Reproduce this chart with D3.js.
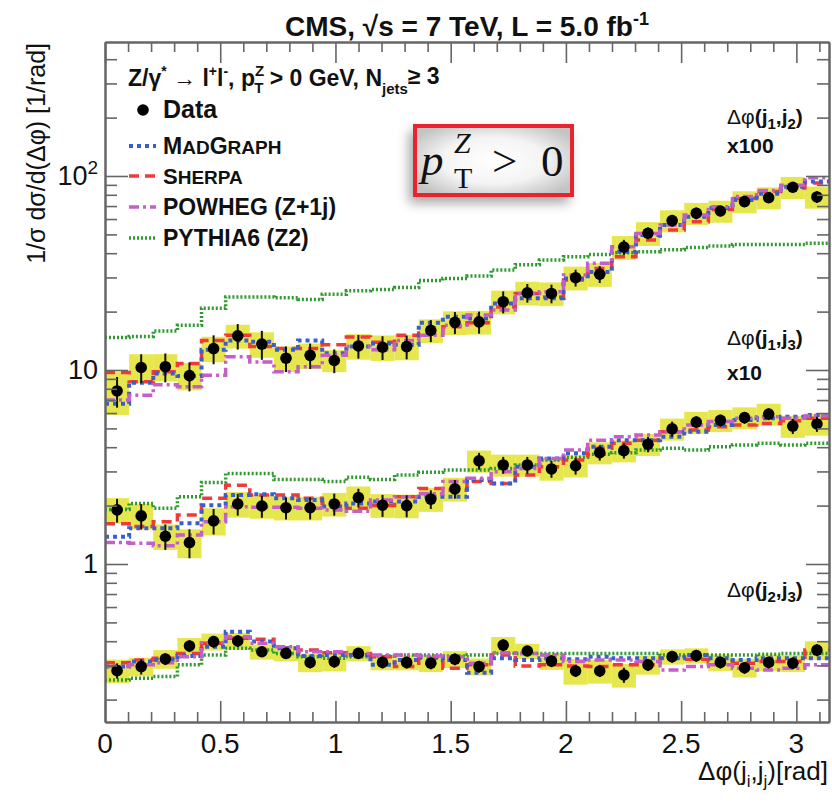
<!DOCTYPE html>
<html>
<head>
<meta charset="utf-8">
<script src="https://cdn.jsdelivr.net/npm/d3@7/dist/d3.min.js"></script>
<style>
  body { margin: 0; background: #fff; }
  svg { display: block; font-family: "Liberation Sans", Arial, Helvetica, sans-serif; }
  text { fill: #111; }
</style>
</head>
<body>
<svg id="chart" width="832" height="810"></svg>
<script>
// ---- binning: 30 equal Δφ bins over [0, π] ----
const nBins = 30;
const binEdges = d3.range(nBins + 1).map(i => i * Math.PI / nBins);

// ---- normalised 1/σ dσ/dΔφ per bin (unscaled) ----
// Δφ(j1,j2)
const data12   = [0.078, 0.103, 0.104, 0.0935, 0.129, 0.150, 0.136, 0.115, 0.119, 0.112, 0.133, 0.131, 0.132, 0.160, 0.176, 0.177, 0.225, 0.250, 0.248, 0.299, 0.312, 0.430, 0.507, 0.589, 0.643, 0.660, 0.738, 0.773, 0.875, 0.780];
const unc12    = [0.25, 0.17, 0.16, 0.16, 0.15, 0.14, 0.15, 0.15, 0.15, 0.13, 0.15, 0.15, 0.15, 0.14, 0.14, 0.14, 0.14, 0.14, 0.14, 0.14, 0.14, 0.14, 0.14, 0.13, 0.13, 0.13, 0.13, 0.13, 0.13, 0.13];
const stat12   = [0.18, 0.17, 0.17, 0.17, 0.17, 0.15, 0.17, 0.15, 0.15, 0.14, 0.14, 0.14, 0.14, 0.13, 0.13, 0.13, 0.13, 0.11, 0.11, 0.10, 0.10, 0.09, 0.07, 0.07, 0.07, 0.06, 0.06, 0.06, 0.06, 0.07];
const mad12    = [0.067, 0.086, 0.096, 0.093, 0.127, 0.142, 0.140, 0.127, 0.142, 0.122, 0.132, 0.137, 0.135, 0.175, 0.188, 0.184, 0.220, 0.234, 0.234, 0.296, 0.320, 0.407, 0.496, 0.559, 0.616, 0.683, 0.753, 0.810, 0.880, 0.937];
const sherpa12 = [0.097, 0.087, 0.098, 0.108, 0.142, 0.151, 0.132, 0.129, 0.129, 0.135, 0.148, 0.139, 0.151, 0.155, 0.167, 0.175, 0.211, 0.248, 0.238, 0.291, 0.334, 0.383, 0.468, 0.527, 0.581, 0.671, 0.766, 0.833, 0.867, 0.920];
const powheg12 = [0.070, 0.074, 0.084, 0.082, 0.094, 0.117, 0.110, 0.098, 0.104, 0.119, 0.132, 0.127, 0.142, 0.151, 0.170, 0.192, 0.204, 0.248, 0.253, 0.309, 0.355, 0.432, 0.506, 0.559, 0.630, 0.695, 0.785, 0.843, 0.896, 0.980];
const pythia12 = [0.147, 0.149, 0.159, 0.170, 0.208, 0.238, 0.238, 0.236, 0.231, 0.246, 0.256, 0.260, 0.266, 0.289, 0.296, 0.305, 0.328, 0.349, 0.369, 0.383, 0.394, 0.402, 0.407, 0.417, 0.428, 0.436, 0.444, 0.444, 0.444, 0.450];

// Δφ(j1,j3)
const data13   = [0.190, 0.177, 0.139, 0.129, 0.167, 0.204, 0.199, 0.195, 0.195, 0.204, 0.220, 0.201, 0.200, 0.216, 0.244, 0.340, 0.324, 0.324, 0.309, 0.321, 0.375, 0.384, 0.414, 0.497, 0.539, 0.550, 0.568, 0.593, 0.514, 0.527];
const unc13    = [0.15, 0.15, 0.15, 0.17, 0.16, 0.15, 0.14, 0.14, 0.14, 0.14, 0.14, 0.14, 0.14, 0.14, 0.14, 0.13, 0.13, 0.13, 0.13, 0.13, 0.13, 0.13, 0.13, 0.13, 0.13, 0.13, 0.13, 0.13, 0.13, 0.13];
const stat13   = [0.14, 0.15, 0.15, 0.17, 0.15, 0.13, 0.13, 0.13, 0.13, 0.13, 0.11, 0.13, 0.13, 0.11, 0.11, 0.10, 0.10, 0.10, 0.10, 0.10, 0.09, 0.09, 0.09, 0.09, 0.07, 0.07, 0.07, 0.07, 0.09, 0.09];
const mad13    = [0.138, 0.153, 0.153, 0.162, 0.201, 0.227, 0.229, 0.218, 0.214, 0.198, 0.205, 0.210, 0.210, 0.222, 0.222, 0.271, 0.260, 0.317, 0.350, 0.372, 0.402, 0.435, 0.435, 0.453, 0.481, 0.520, 0.553, 0.564, 0.574, 0.586];
const sherpa13 = [0.161, 0.156, 0.165, 0.179, 0.218, 0.255, 0.227, 0.227, 0.218, 0.205, 0.194, 0.200, 0.222, 0.245, 0.240, 0.266, 0.260, 0.288, 0.317, 0.344, 0.395, 0.419, 0.435, 0.481, 0.490, 0.510, 0.520, 0.530, 0.547, 0.564];
const powheg13 = [0.129, 0.128, 0.124, 0.141, 0.165, 0.197, 0.196, 0.196, 0.194, 0.190, 0.187, 0.214, 0.222, 0.230, 0.266, 0.277, 0.299, 0.311, 0.350, 0.387, 0.435, 0.453, 0.462, 0.481, 0.520, 0.542, 0.564, 0.574, 0.564, 0.580];
const pythia13 = [0.191, 0.205, 0.194, 0.222, 0.263, 0.293, 0.293, 0.273, 0.273, 0.266, 0.280, 0.273, 0.288, 0.297, 0.305, 0.305, 0.311, 0.324, 0.344, 0.355, 0.368, 0.375, 0.387, 0.395, 0.387, 0.402, 0.411, 0.419, 0.411, 0.419];

// Δφ(j2,j3)
const data23   = [0.282, 0.296, 0.324, 0.378, 0.398, 0.401, 0.353, 0.346, 0.311, 0.314, 0.346, 0.311, 0.311, 0.308, 0.323, 0.296, 0.382, 0.356, 0.316, 0.281, 0.281, 0.268, 0.302, 0.333, 0.337, 0.311, 0.292, 0.311, 0.308, 0.360];
const unc23    = [0.14, 0.11, 0.11, 0.10, 0.10, 0.10, 0.09, 0.09, 0.11, 0.11, 0.09, 0.09, 0.09, 0.10, 0.10, 0.10, 0.10, 0.09, 0.10, 0.15, 0.14, 0.14, 0.11, 0.09, 0.09, 0.10, 0.11, 0.10, 0.10, 0.11];
const stat23   = [0.09, 0.09, 0.07, 0.07, 0.07, 0.07, 0.06, 0.06, 0.07, 0.07, 0.06, 0.07, 0.07, 0.07, 0.07, 0.07, 0.07, 0.06, 0.07, 0.07, 0.07, 0.09, 0.07, 0.07, 0.07, 0.07, 0.07, 0.07, 0.07, 0.07];
const mad23    = [0.296, 0.314, 0.320, 0.336, 0.375, 0.448, 0.398, 0.368, 0.336, 0.340, 0.340, 0.302, 0.320, 0.333, 0.320, 0.275, 0.327, 0.320, 0.327, 0.323, 0.333, 0.327, 0.327, 0.327, 0.340, 0.327, 0.320, 0.327, 0.327, 0.327];
const sherpa23 = [0.310, 0.320, 0.327, 0.346, 0.390, 0.414, 0.409, 0.368, 0.360, 0.349, 0.346, 0.333, 0.296, 0.327, 0.290, 0.302, 0.340, 0.298, 0.302, 0.298, 0.296, 0.302, 0.302, 0.327, 0.323, 0.314, 0.308, 0.314, 0.314, 0.360];
const powheg23 = [0.296, 0.302, 0.310, 0.333, 0.393, 0.422, 0.390, 0.375, 0.353, 0.353, 0.346, 0.340, 0.340, 0.336, 0.333, 0.308, 0.349, 0.346, 0.340, 0.314, 0.320, 0.320, 0.314, 0.284, 0.296, 0.302, 0.290, 0.284, 0.290, 0.302];
const pythia23 = [0.252, 0.258, 0.263, 0.302, 0.340, 0.368, 0.360, 0.346, 0.333, 0.327, 0.333, 0.336, 0.340, 0.340, 0.336, 0.340, 0.346, 0.346, 0.346, 0.346, 0.346, 0.346, 0.346, 0.340, 0.340, 0.340, 0.340, 0.343, 0.346, 0.346];

// display multipliers per distribution
const scaleFactors = [100, 10, 1];
const generatorNames = ["MADGRAPH", "SHERPA", "POWHEG (Z+1j)", "PYTHIA6 (Z2)"];
const xTickLabels = ["0", "0.5", "1", "1.5", "2", "2.5", "3"];
const xTickValues = [0, 0.5, 1, 1.5, 2, 2.5, 3];
const yMajorTicks = [1, 10, 100];

const groups = [
  { scale: scaleFactors[0], data: data12, unc: unc12, stat: stat12, mc: [mad12, sherpa12, powheg12, pythia12] },
  { scale: scaleFactors[1], data: data13, unc: unc13, stat: stat13, mc: [mad13, sherpa13, powheg13, pythia13] },
  { scale: scaleFactors[2], data: data23, unc: unc23, stat: stat23, mc: [mad23, sherpa23, powheg23, pythia23] }
];

// ---- line styles for the generators ----
const genStyle = [
  { color: "#3a5fcd", width: 4,   dash: "4 4" },        // MADGRAPH
  { color: "#f03a3a", width: 3.5, dash: "10 6" },       // SHERPA
  { color: "#c45ec8", width: 3.5, dash: "10 4 3 4" },   // POWHEG
  { color: "#2f9a2f", width: 3.5, dash: "2 2" }         // PYTHIA6
];
const drawOrder = [3, 1, 0, 2];

// ---- frame / scales ----
const L = 105, R = 829, T = 42, B = 722;
const svg = d3.select("#chart");
const x = d3.scaleLinear().domain([0, Math.PI]).range([L, R]);
const y = d3.scaleLog().domain([0.1533, 490.6]).range([B, T]);

const defs = svg.append("defs");
defs.append("clipPath").attr("id", "plotClip")
  .append("rect").attr("x", L).attr("y", T).attr("width", R - L).attr("height", B - T);

const plot = svg.append("g").attr("clip-path", "url(#plotClip)");

// uncertainty bands
groups.forEach(g => {
  plot.append("g").selectAll("rect").data(g.data).join("rect")
    .attr("x", (d, i) => x(binEdges[i]))
    .attr("width", (d, i) => x(binEdges[i + 1]) - x(binEdges[i]))
    .attr("y", (d, i) => y(d * g.scale * (1 + g.unc[i])))
    .attr("height", (d, i) => y(d * g.scale * (1 - g.unc[i])) - y(d * g.scale * (1 + g.unc[i])))
    .attr("fill", "#e6e64e");
});

// generator step histograms
const stepLine = d3.line().x(p => x(p[0])).y(p => y(p[1]));
drawOrder.forEach(k => {
  groups.forEach(g => {
    const pts = g.mc[k].flatMap((v, i) => [[binEdges[i], v * g.scale], [binEdges[i + 1], v * g.scale]]);
    plot.append("path").attr("d", stepLine(pts))
      .attr("fill", "none")
      .attr("stroke", genStyle[k].color)
      .attr("stroke-width", genStyle[k].width)
      .attr("stroke-dasharray", genStyle[k].dash);
  });
});

// data points with statistical error bars
groups.forEach(g => {
  const gd = plot.append("g");
  g.data.forEach((v, i) => {
    const cx = x((binEdges[i] + binEdges[i + 1]) / 2);
    gd.append("line")
      .attr("x1", cx).attr("x2", cx)
      .attr("y1", y(v * g.scale * (1 + g.stat[i])))
      .attr("y2", y(v * g.scale * (1 - g.stat[i])))
      .attr("stroke", "#111").attr("stroke-width", 2);
    gd.append("circle").attr("cx", cx).attr("cy", y(v * g.scale)).attr("r", 5.8).attr("fill", "#000");
  });
});

// ---- axes ----
const axisColor = "#666";
const xMinor = d3.range(0, 3.15, 0.1).filter(v => Math.abs(v * 2 - Math.round(v * 2)) > 1e-6);
const yMinor = [];
[0.1, 1, 10, 100].forEach(dec => d3.range(2, 10).forEach(m => {
  const v = dec * m;
  if (v > 0.1533 && v < 490) yMinor.push(v);
}));

function styleAxis(g) {
  g.select(".domain").attr("stroke", axisColor).attr("stroke-width", 2);
  g.selectAll(".tick line").attr("stroke", axisColor).attr("stroke-width", 1.6);
  g.selectAll(".tick text").remove();
}
svg.append("g").attr("transform", `translate(0,${B})`)
  .call(d3.axisBottom(x).tickValues(xTickValues).tickSize(-21).tickSizeOuter(0)).call(styleAxis);
svg.append("g").attr("transform", `translate(0,${B})`)
  .call(d3.axisBottom(x).tickValues(xMinor).tickSize(-10).tickSizeOuter(0)).call(styleAxis);
svg.append("g").attr("transform", `translate(0,${T})`)
  .call(d3.axisTop(x).tickValues(xTickValues).tickSize(-21).tickSizeOuter(0)).call(styleAxis);
svg.append("g").attr("transform", `translate(0,${T})`)
  .call(d3.axisTop(x).tickValues(xMinor).tickSize(-10).tickSizeOuter(0)).call(styleAxis);
svg.append("g").attr("transform", `translate(${L},0)`)
  .call(d3.axisLeft(y).tickValues(yMajorTicks).tickSize(-23).tickSizeOuter(0)).call(styleAxis);
svg.append("g").attr("transform", `translate(${L},0)`)
  .call(d3.axisLeft(y).tickValues(yMinor).tickSize(-12).tickSizeOuter(0)).call(styleAxis);
svg.append("g").attr("transform", `translate(${R},0)`)
  .call(d3.axisRight(y).tickValues(yMajorTicks).tickSize(-23).tickSizeOuter(0)).call(styleAxis);
svg.append("g").attr("transform", `translate(${R},0)`)
  .call(d3.axisRight(y).tickValues(yMinor).tickSize(-12).tickSizeOuter(0)).call(styleAxis);

// tick labels
svg.append("g").selectAll("text").data(xTickValues).join("text")
  .attr("x", d => x(d)).attr("y", 753)
  .attr("text-anchor", "middle").attr("font-size", 28)
  .text((d, i) => xTickLabels[i]);

function rich(parent, px, py, parts, attrs) {
  const t = parent.append("text").attr("x", px).attr("y", py);
  Object.entries(attrs || {}).forEach(([k, v]) => t.attr(k, v));
  let shift = 0;
  parts.forEach(p => {
    const target = p.dy || 0;
    const ts = t.append("tspan").text(p.t).attr("dy", target - shift);
    shift = target;
    if (p.size) ts.attr("font-size", p.size);
    if (p.weight) ts.attr("font-weight", p.weight);
    if (p.dx) ts.attr("dx", p.dx);
  });
  return t;
}

const yl = svg.append("g");
yl.append("text").attr("x", 98).attr("y", y(1) + 9).attr("text-anchor", "end").attr("font-size", 27).text("1");
yl.append("text").attr("x", 98).attr("y", y(10) + 9).attr("text-anchor", "end").attr("font-size", 27).text("10");
rich(yl, 98, y(100) + 9, [{ t: "10" }, { t: "2", dy: -11, size: 19 }], { "text-anchor": "end", "font-size": 27 });

// axis titles
svg.append("text")
  .attr("transform", `translate(45,43) rotate(-90)`)
  .attr("text-anchor", "end").attr("font-size", 25)
  .text("1/σ dσ/d(Δφ) [1/rad]");
rich(svg, 828, 780, [
  { t: "Δφ(j" }, { t: "i", dy: 7, size: 17 }, { t: ",j" }, { t: "j", dy: 7, size: 17 }, { t: ")[rad]" }
], { "text-anchor": "end", "font-size": 26 });

// title
rich(svg, 467, 36, [
  { t: "CMS, √s = 7 TeV, L = 5.0 fb" }, { t: "-1", dy: -11, size: 18 }
], { "text-anchor": "middle", "font-size": 28, "font-weight": "bold" });

// ---- legend ----
const lg = svg.append("g");
rich(lg, 128, 86, [
  { t: "Z/γ" }, { t: "*", dy: -10, size: 14 }, { t: " → l" }, { t: "+", dy: -10, size: 14 }, { t: "l" },
  { t: "-", dy: -10, size: 14 }, { t: ", p" }, { t: "Z", dy: -10, size: 15 }, { t: "T", dy: 7, size: 15, dx: -10 },
  { t: " > 0 GeV, N" }, { t: "jets", dy: 8, size: 15 }, { t: "≥ 3", dy: -2 }
], { "font-size": 23, "font-weight": "bold" });

lg.append("circle").attr("cx", 143).attr("cy", 110).attr("r", 5.8).attr("fill", "#000");
lg.append("text").attr("x", 163).attr("y", 118).attr("font-size", 25).attr("font-weight", "bold").text("Data");

const legendRows = [146, 176, 207, 238];
const legendLabels = [
  [{ t: "M" }, { t: "AD", size: 19 }, { t: "G" }, { t: "RAPH", size: 19 }],
  [{ t: "S" }, { t: "HERPA", size: 19 }],
  [{ t: generatorNames[2] }],
  [{ t: generatorNames[3] }]
];
legendRows.forEach((ly, k) => {
  lg.append("line").attr("x1", 129).attr("x2", 156).attr("y1", ly).attr("y2", ly)
    .attr("stroke", genStyle[k].color).attr("stroke-width", genStyle[k].width)
    .attr("stroke-dasharray", genStyle[k].dash);
  rich(lg, 163, ly + 8, legendLabels[k], { "font-size": k === 1 ? 22 : 23, "font-weight": "bold" });
});

// distribution labels
function distLabel(px, py, a, b) {
  rich(svg, px, py, [
    { t: "Δφ", weight: "normal" }, { t: "(j" }, { t: a, dy: 5, size: 15 }, { t: ",j" }, { t: b, dy: 5, size: 15 }, { t: ")" }
  ], { "font-size": 21, "font-weight": "bold" });
}
distLabel(727, 124, "1", "2");
svg.append("text").attr("x", 727).attr("y", 153).attr("font-size", 21).attr("font-weight", "bold").text("x100");
distLabel(727, 345, "1", "3");
svg.append("text").attr("x", 727).attr("y", 380).attr("font-size", 21).attr("font-weight", "bold").text("x10");
distLabel(727, 597, "2", "3");

// ---- boxed selection label ----
const sh = defs.append("filter").attr("id", "boxShadow").attr("x", "-30%").attr("y", "-40%").attr("width", "160%").attr("height", "180%");
sh.append("feGaussianBlur").attr("stdDeviation", 6);
const grad = defs.append("radialGradient").attr("id", "boxFill").attr("cx", "50%").attr("cy", "50%").attr("r", "60%");
grad.append("stop").attr("offset", "0%").attr("stop-color", "#ffffff");
grad.append("stop").attr("offset", "55%").attr("stop-color", "#f4f4f4");
grad.append("stop").attr("offset", "100%").attr("stop-color", "#c4c4c4");

const bx = svg.append("g");
bx.append("rect").attr("x", 409).attr("y", 131).attr("width", 160).attr("height", 72)
  .attr("fill", "#888").attr("opacity", 0.75).attr("filter", "url(#boxShadow)");
bx.append("rect").attr("x", 415).attr("y", 126).attr("width", 157).attr("height", 69)
  .attr("fill", "url(#boxFill)").attr("stroke", "#e8242c").attr("stroke-width", 4);
const serif = "'Liberation Serif', 'DejaVu Serif', serif";
const ink = "#2a2118";
bx.append("text").attr("x", 421).attr("y", 175).style("font-family", serif).style("font-style", "italic")
  .attr("font-size", 45).attr("fill", ink).text("p");
bx.append("text").attr("x", 454).attr("y", 153).style("font-family", serif).style("font-style", "italic")
  .attr("font-size", 30).attr("fill", ink).text("Z");
bx.append("text").attr("x", 454).attr("y", 188).style("font-family", serif)
  .attr("font-size", 30).attr("fill", ink).text("T");
bx.append("text").attr("x", 492).attr("y", 176).style("font-family", serif)
  .attr("font-size", 45).attr("fill", ink).text(">");
bx.append("text").attr("x", 541).attr("y", 176).style("font-family", serif)
  .attr("font-size", 45).attr("fill", ink).text("0");
</script>
</body>
</html>
